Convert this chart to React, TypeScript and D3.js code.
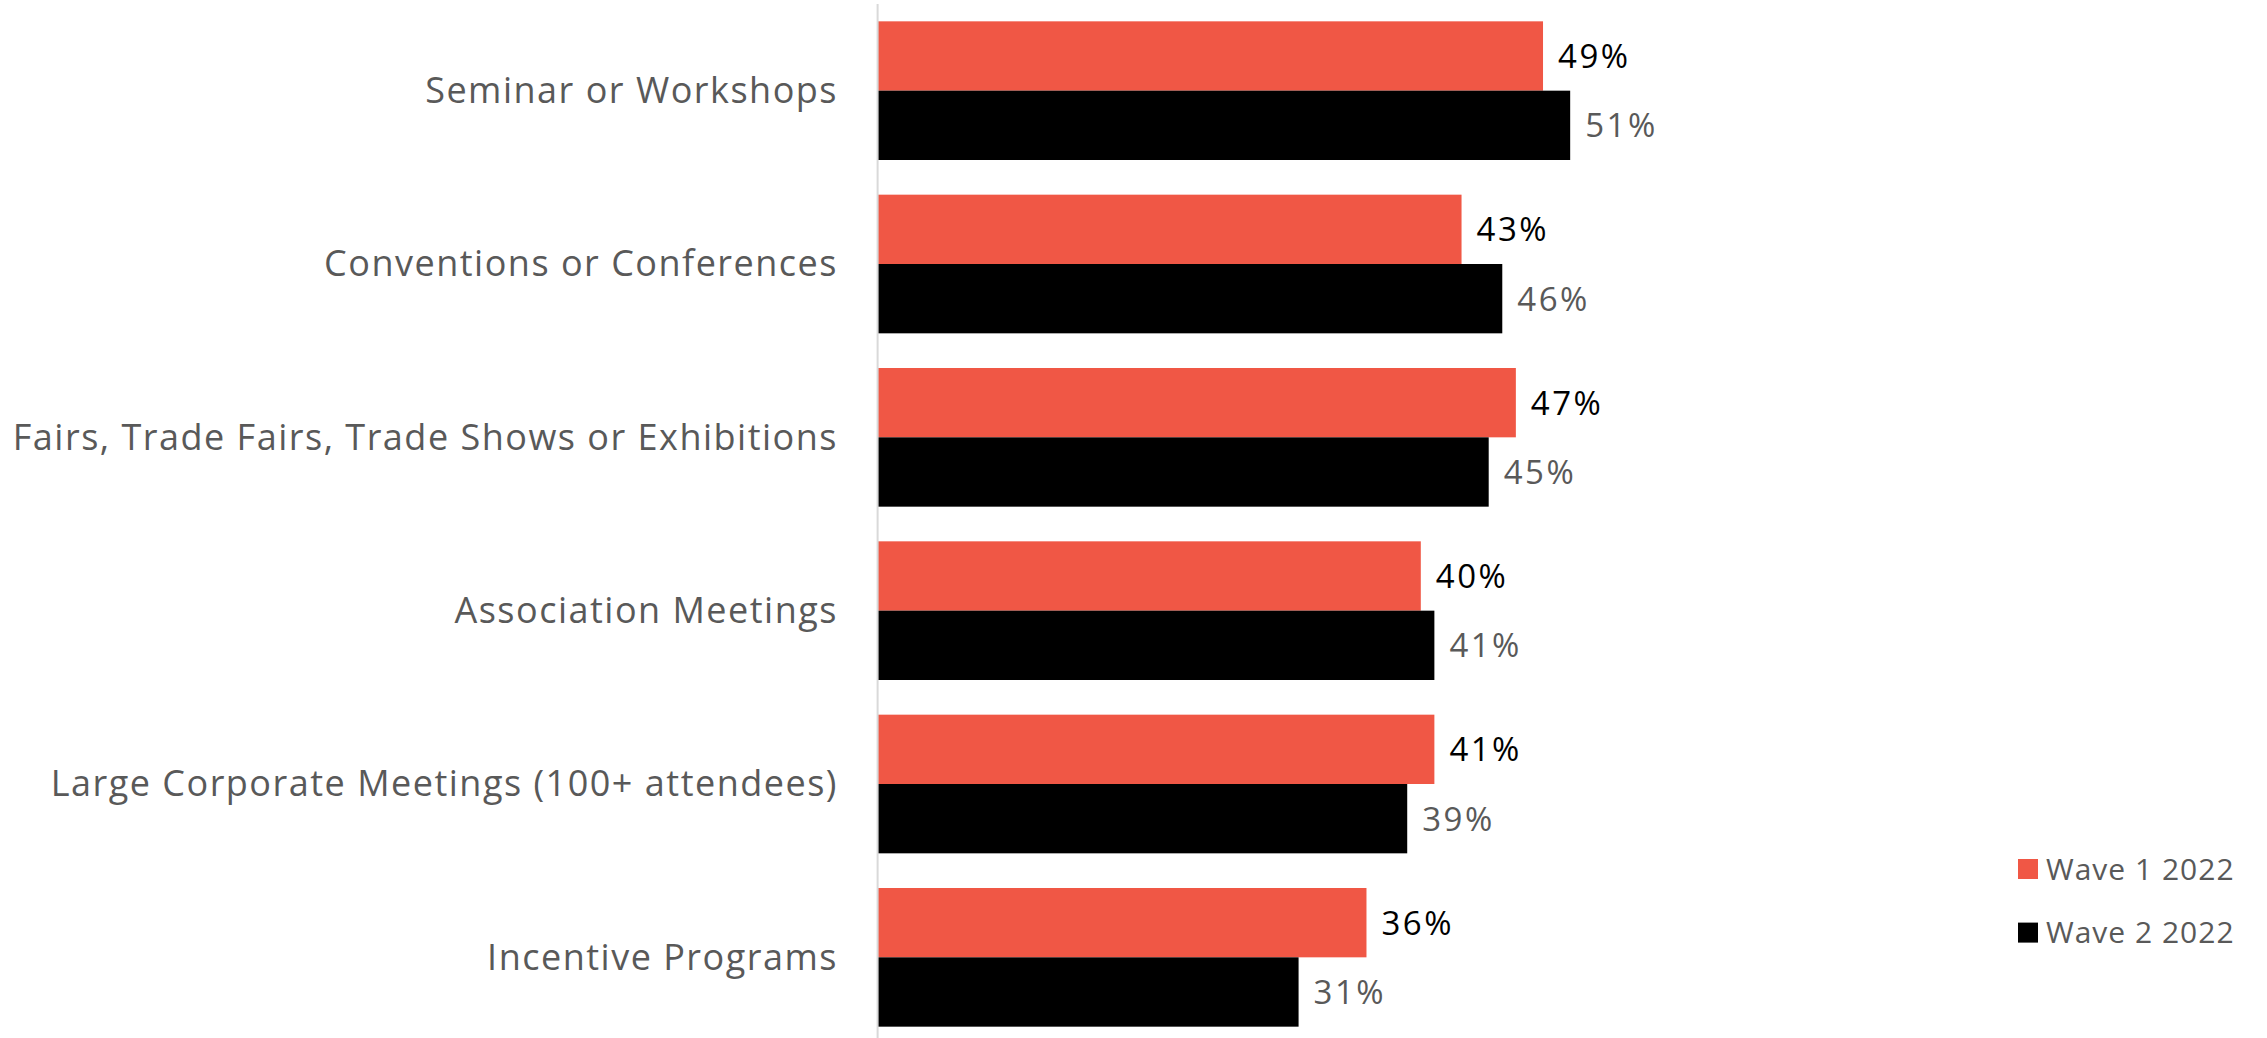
import React from "react";
import * as d3 from "d3";

const categories = [
  "Seminar or Workshops",
  "Conventions or Conferences",
  "Fairs, Trade Fairs, Trade Shows or Exhibitions",
  "Association Meetings",
  "Large Corporate Meetings (100+ attendees)",
  "Incentive Programs",
];
const seriesNames = ["Wave 1 2022", "Wave 2 2022"];
const wave1 = [0.49, 0.43, 0.47, 0.40, 0.41, 0.36];
const wave2 = [0.51, 0.46, 0.45, 0.41, 0.39, 0.31];

const W = 2267;
const H = 1038;
const COLORS = ["#F05745", "#000000"];
const LABEL_COLORS = ["#000000", "#595959"];
const FONT = "'Open Sans', sans-serif";

export default function App() {
  const axisX = 877.6;
  const x = d3.scaleLinear().domain([0, 1]).range([axisX, axisX + 1358]);
  const y = d3
    .scaleBand<string>()
    .domain(categories)
    .range([4, 1044])
    .paddingInner(0.2)
    .paddingOuter(0.1);
  const sub = d3
    .scaleBand<string>()
    .domain(seriesNames)
    .range([0, y.bandwidth()])
    .padding(0);
  const series = [wave1, wave2];
  const fmt = d3.format(".0%");

  return (
    <svg
      width={W}
      height={H}
      style={{ position: "absolute", left: 0, top: 0, background: "#fff" }}
      fontFamily={FONT}
    >
      {series.map((vals, si) =>
        vals.map((v, i) => {
          const yy = (y(categories[i]) ?? 0) + (sub(seriesNames[si]) ?? 0);
          return (
            <g key={`${si}-${i}`}>
              <rect
                x={x(0)}
                y={yy}
                width={x(v) - x(0)}
                height={sub.bandwidth()}
                fill={COLORS[si]}
              />
              <text
                x={x(v) + 15}
                y={yy + sub.bandwidth() / 2}
                dy="0.36em"
                fontSize={33}
                letterSpacing={2.5}
                fill={LABEL_COLORS[si]}
              >
                {fmt(v)}
              </text>
            </g>
          );
        })
      )}
      <line x1={axisX} x2={axisX} y1={4} y2={H} stroke="#d9d9d9" strokeWidth={2} />
      {categories.map((c) => (
        <text
          key={c}
          x={838}
          y={(y(c) ?? 0) + y.bandwidth() / 2}
          dy="0.34em"
          textAnchor="end"
          fontSize={36}
          letterSpacing={1.5}
          fill="#595959"
        >
          {c}
        </text>
      ))}
      {seriesNames.map((s, i) => (
        <g key={s} transform={`translate(2018, ${869 + i * 63.6})`}>
          <rect x={0} y={-10} width={20} height={20} fill={COLORS[i]} />
          <text x={28} y={0} dy="0.35em" fontSize={30} letterSpacing={1} fill="#595959">
            {s}
          </text>
        </g>
      ))}
    </svg>
  );
}
